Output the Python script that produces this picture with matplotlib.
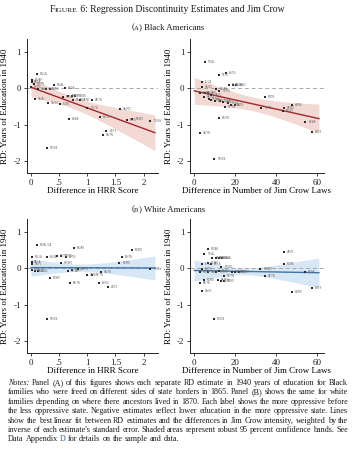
import numpy as np
import matplotlib
matplotlib.use("Agg")
import matplotlib.pyplot as plt

W, H = 356, 450
SERIF = ["Liberation Serif", "DejaVu Serif"]
plt.rcParams["font.family"] = SERIF

# ---------------- data ----------------
black_hrr_x = [0.10, 0.01, 0.01, 0.06, 0.41, 0.60, 0.00, 0.13, 0.26, 0.33, 0.07, 0.30, 0.52, 0.56,
               0.66, 0.72, 0.78, 0.75, 0.87, 1.08, 0.99, 0.67, 1.22, 1.58, 1.34, 1.28, 1.70, 1.80, 2.11, 0.29]
black_hrr_y = [0.39, 0.23, 0.18, 0.13, 0.08, 0.00, 0.03, -0.03, -0.03, -0.03, -0.28, -0.39, -0.42, -0.23,
               -0.20, -0.21, -0.21, -0.32, -0.33, -0.32, -0.55, -0.83, -0.78, -0.58, -1.17, -1.28, -0.87, -0.85, -0.90, -1.65]
black_hrr_lab = ["MS/LA", "MS/AR", "AR/LA", "MS/TN", "MS/AL", "AL/GA", "AL/MS", "GA/FL", "AL/FL", "AL/TN",
                 "GA/AL", "GA/SC", "SC/NC", "NC/VA", "TN/KY", "AR/MO", "TN/AR", "NC/TN", "VA/NC", "VA/TN",
                 "TN/TN", "LA/AR", "AL/TN", "GA/MD", "LA/TX", "GA/TN", "KY/IN", "KY/WV", "TN/WV", "MD/DE"]

black_jc_x = [5.0, 15.6, 12.0, 3.9, 3.9, 17.0, 19.0, 20.5, 3.0, 5.0, 10.8, 12.0, 6.8, 8.4, 4.8, 7.0, 8.4,
              10.0, 12.4, 14.0, 16.5, 18.0, 19.7, 15.0, 34.7, 32.6, 47.6, 43.7, 43.5, 12.0, 54.4, 57.6, 3.0, 9.8]
black_jc_y = [0.71, 0.41, 0.36, 0.18, 0.05, 0.09, 0.09, 0.09, -0.12, -0.12, -0.03, -0.07, -0.14, -0.18,
              -0.25, -0.30, -0.32, -0.34, -0.35, -0.37, -0.39, -0.46, -0.46, -0.50, -0.25, -0.54, -0.46,
              -0.54, -0.62, -0.81, -0.92, -1.20, -1.24, -1.95]
black_jc_lab = ["TN/AL", "AL/TN", "NC/SC", "FL/GA", "GA/NC", "MS/AL", "AL/GA", "GA/SC", "AL/MS", "AR/LA",
                "MS/AR", "TN/MS", "AL/FL", "GA/FL", "AR/MS", "NC/VA", "TN/NC", "AR/MO", "TN/AR", "VA/NC",
                "TN/KY", "SC/NC", "AL/TN", "NC/TN", "KY/TN", "TN/VA", "LA/MS", "VA/MD", "MD/KY", "MS/TN",
                "LA/AR", "LA/TX", "GA/TN", "MD/DE"]

white_hrr_x = [0.11, 0.77, 0.01, 0.28, 0.46, 0.53, 0.63, 0.01, 0.01, 0.53, 1.57, 1.61, 1.79, 0.01, 0.07,
               0.13, 0.34, 0.69, 0.66, 0.72, 0.84, 0.99, 1.09, 1.25, 1.21, 1.36, 2.11, 0.29]
white_hrr_y = [0.64, 0.55, 0.32, 0.32, 0.34, 0.34, 0.32, 0.16, 0.11, 0.14, 0.14, 0.30, 0.49, -0.05, -0.06,
               -0.07, -0.26, -0.39, -0.07, -0.05, -0.02, -0.18, -0.19, -0.10, -0.39, -0.50, -0.01, -1.39]
white_hrr_lab = ["MS/AL/GA", "MS/AR", "MS/LA", "AL/GA", "AR/MS", "TN/MS", "AL/TN", "AR/LA", "GA/FL", "MD/WV",
                 "KY/MD", "MS/TN", "KY/WV", "AL/MS", "GA/AL", "SC/NC", "KY/WV", "AR/TN", "NC/VA", "TN/KY",
                 "GA/TN", "VA/NC", "NC/TN", "GA/TN", "AL/TN", "LA/TX", "TN/WV", "MD/DE"]

white_jc_x = [6.8, 4.9, 8.9, 10.5, 12.1, 13.7, 3.7, 6.5, 8.1, 13.0, 4.0, 2.9, 6.5, 10.5, 12.1, 18.6, 20.0,
              22.0, 14.6, 4.7, 11.7, 13.0, 14.6, 2.9, 3.7, 32.4, 34.8, 43.8, 43.8, 54.3, 47.8, 57.5, 9.7]
white_jc_y = [0.53, 0.39, 0.28, 0.28, 0.28, 0.28, 0.11, 0.14, 0.12, 0.05, -0.02, -0.11, -0.11, -0.09, -0.07,
              -0.09, -0.09, -0.10, -0.21, -0.32, -0.32, -0.35, -0.35, -0.41, -0.61, -0.03, -0.21, 0.46, 0.12,
              -0.09, -0.65, -0.55, -1.40]
white_jc_lab = ["MD/AR", "TN/AL", "MS/AL", "AL/GA", "MS/LA", "GA/AL", "FL/GA", "AL/MS", "AR/LA", "TN/MD",
                "AL/TN", "KY/TN", "GA/FL", "TN/MS", "NC/SC", "TN/AR", "TN/NC", "VA/NC", "NC/TN", "KY/MD",
                "AR/MO", "SC/NC", "TN/KY", "AR/TN", "GA/SC", "MD/WV", "VA/TN", "VA/KY", "KY/MD", "LA/AR",
                "LA/MS", "LA/TX", "MD/DE"]

# fitted line: intercept, slope, x-end ; band: centre of narrowest point, min half-width, half-width at x=0
fit_black_hrr = dict(b0=0.03, b1=-0.568, xmax=2.2, xc=0.7, hmin=0.16, h0=0.27)
fit_black_jc = dict(b0=-0.07, b1=-0.0125, xmax=61, xc=29, hmin=0.19, h0=0.37)
fit_white_hrr = dict(b0=0.02, b1=-0.005, xmax=2.2, xc=0.9, hmin=0.10, h0=0.24)
fit_white_jc = dict(b0=-0.06, b1=-0.001, xmax=61, xc=25, hmin=0.09, h0=0.29)

hrr_ticks = [0, 0.5, 1, 1.5, 2]
hrr_ticklabels = ["0", ".5", "1", "1.5", "2"]
jc_ticks = [0, 20, 40, 60]
jc_ticklabels = ["0", "20", "40", "60"]
y_ticks = [-2, -1, 0, 1]
y_ticklabels = ["-2", "-1", "0", "1"]

RED_LINE, RED_BAND = "#a3282a", "#f3d9d4"
BLUE_LINE, BLUE_BAND = "#3f73a8", "#d8e7f5"

fig = plt.figure(figsize=(W / 100, H / 100), dpi=100)
fig.patch.set_facecolor("white")


def fx(px):
    return px / W


def fy(py):
    return 1 - py / H


def axes_box(left, right, top, bottom):
    return [fx(left), fy(bottom), fx(right) - fx(left), (bottom - top) / H]


def panel(box, xs, ys, labs, fit, xlim, xticks, xticklabels, xlabel, line_c, band_c):
    ax = fig.add_axes(box)
    ax.set_facecolor("white")
    xx = np.linspace(0, fit["xmax"], 200)
    k = (fit["h0"] ** 2 - fit["hmin"] ** 2) / fit["xc"] ** 2
    half = np.sqrt(fit["hmin"] ** 2 + k * (xx - fit["xc"]) ** 2)
    yy = fit["b0"] + fit["b1"] * xx
    ax.fill_between(xx, yy - half, yy + half, color=band_c, lw=0, zorder=1)
    ax.axhline(0, color="#a8a8a8", lw=0.7, ls=(0, (4, 3)), zorder=2)
    ax.plot(xx, yy, color=line_c, lw=1.0, zorder=3)
    ax.scatter(xs, ys, s=2.2, color="#2b2b2b", marker="s", lw=0, zorder=4)
    dx = (xlim[1] - xlim[0]) * 0.022
    for x, y, l in zip(xs, ys, labs):
        ax.text(x + dx, y, l, fontsize=1.8, color="#666666", va="center", ha="left", zorder=4,
                family=["DejaVu Sans"])
    ax.set_xlim(*xlim)
    ax.set_ylim(-2.33, 1.35)
    ax.set_xticks(xticks)
    ax.set_xticklabels(xticklabels)
    ax.set_yticks(y_ticks)
    ax.set_yticklabels(y_ticklabels)
    for s in ["top", "right"]:
        ax.spines[s].set_visible(False)
    for s in ["left", "bottom"]:
        ax.spines[s].set_linewidth(0.7)
        ax.spines[s].set_color("#222222")
    ax.tick_params(axis="both", length=2.5, width=0.6, labelsize=6.5, pad=1.5, colors="#222222")
    ax.set_xlabel(xlabel, fontsize=6.5, labelpad=0.3)
    ax.set_ylabel("RD: Years of Education in 1940", fontsize=6.5, labelpad=3)
    return ax


hrr_xlim = (-0.076, 2.255)
jc_xlim = (-2.1, 63.5)

panel(axes_box(26.7, 158, 39.2, 173.1), black_hrr_x, black_hrr_y, black_hrr_lab, fit_black_hrr,
      hrr_xlim, hrr_ticks, hrr_ticklabels, "Difference in HRR Score", RED_LINE, RED_BAND)
panel(axes_box(190, 324, 39.2, 173.1), black_jc_x, black_jc_y, black_jc_lab, fit_black_jc,
      jc_xlim, jc_ticks, jc_ticklabels, "Difference in Number of Jim Crow Laws", RED_LINE, RED_BAND)
panel(axes_box(26.7, 158, 219.2, 353.1), white_hrr_x, white_hrr_y, white_hrr_lab, fit_white_hrr,
      hrr_xlim, hrr_ticks, hrr_ticklabels, "Difference in HRR Score", BLUE_LINE, BLUE_BAND)
panel(axes_box(190, 324, 219.2, 353.1), white_jc_x, white_jc_y, white_jc_lab, fit_white_jc,
      jc_xlim, jc_ticks, jc_ticklabels, "Difference in Number of Jim Crow Laws", BLUE_LINE, BLUE_BAND)

renderer = fig.canvas.get_renderer()


def width_of(s, size, style="normal"):
    t = fig.text(0, 0, s, fontsize=size, style=style)
    w = t.get_window_extent(renderer).width
    t.remove()
    return w


def rich_line(pieces, y_px, x_px=None, center=None, justify_to=None):
    """pieces: list of (text, size, style, color); words separated by explicit ' ' pieces."""
    widths = []
    for s, size, style, color in pieces:
        if s == " ":
            widths.append(width_of("a a", size, style) - width_of("aa", size, style))
        else:
            widths.append(width_of(s, size, style))
    total = sum(widths)
    nspace = sum(1 for p in pieces if p[0] == " ")
    extra = 0
    if justify_to is not None and nspace:
        extra = (justify_to - total) / nspace
        total = justify_to
    x = x_px if center is None else center - total / 2
    for (s, size, style, color), w in zip(pieces, widths):
        if s == " ":
            x += w + extra
            continue
        fig.text(fx(x), fy(y_px), s, fontsize=size, style=style, color=color, va="baseline", ha="left")
        x += w


K = "#1a1a1a"
rich_line([("F", 6.9, "normal", K), ("IGURE", 5.4, "normal", K),
           (" 6: Regression Discontinuity Estimates and Jim Crow", 6.9, "normal", K)], 12.5, center=167)
rich_line([("(", 6.3, "normal", K), ("A", 4.9, "normal", K), (") Black Americans", 6.3, "normal", K)], 29.5,
          center=168)
rich_line([("(", 6.3, "normal", K), ("B", 4.9, "normal", K), (") White Americans", 6.3, "normal", K)], 211.5,
          center=168)

notes = [
    "Notes: Panel (A) of this figures shows each separate RD estimate in 1940 years of education for Black",
    "families who were freed on different sides of state borders in 1865. Panel (B) shows the same for white",
    "families depending on where there ancestors lived in 1870. Each label shows the more oppressive before",
    "the less oppressive state. Negative estimates reflect lower education in the more oppressive state. Lines",
    "show the best linear fit between RD estimates and the differences in Jim Crow intensity, weighted by the",
    "inverse of each estimate's standard error. Shaded areas represent robust 95 percent confidence bands. See",
    "Data Appendix D for details on the sample and data.",
]
NS = 5.85
for i, line in enumerate(notes):
    words = line.split(" ")
    pieces = []
    for j, wd in enumerate(words):
        if j:
            pieces.append((" ", NS, "normal", K))
        style = "italic" if (i == 0 and j == 0) else "normal"
        color = "#3b5fa8" if (i == 6 and wd == "D") else K
        pieces.append((wd, NS, style, color))
    rich_line(pieces, 385 + i * 9.4, x_px=8, justify_to=(340 if i < 6 else None))

fig.savefig("out.png", dpi=100, facecolor="white")
